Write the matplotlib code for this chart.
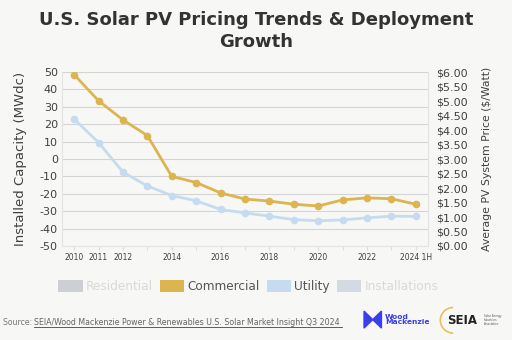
import numpy as np
import matplotlib.pyplot as plt
from matplotlib.patches import Patch, Arc, Polygon

years = ['2010', '2011', '2012', '2013', '2014', '2015', '2016', '2017',
         '2018', '2019', '2020', '2021', '2022', '2023', '2024 1H']
shown_labels = ['2010', '2011', '2012', '', '2014', '', '2016', '',
                '2018', '', '2020', '', '2022', '', '2024 1H']

# $/Watt
commercial = [5.91, 5.01, 4.35, 3.81, 2.40, 2.19, 1.83, 1.62,
              1.55, 1.44, 1.38, 1.59, 1.66, 1.63, 1.44]
utility = [4.38, 3.57, 2.55, 2.07, 1.74, 1.56, 1.26, 1.14,
           1.03, 0.91, 0.87, 0.90, 0.97, 1.03, 1.02]

cap_ticks = list(range(-50, 51, 10))
price_ticks = [i * 0.5 for i in range(13)]

bg = '#f7f7f5'
gold = '#ddb550'
blue = '#c6dbf0'
txt = '#404040'

plt.rcParams['font.family'] = ['DejaVu Sans']

fig = plt.figure(figsize=(5.12, 3.4), dpi=100, facecolor=bg)
ax = fig.add_axes([0.121, 0.2765, 0.715, 0.5115], facecolor=bg)
ax2 = ax.twinx()

x = np.arange(len(years))

ax.set_ylim(-50, 50)
ax.set_yticks(cap_ticks)
ax.set_yticklabels([str(t) for t in cap_ticks], fontsize=8, color=txt)
ax.grid(axis='y', color='#d4d4d4', linewidth=0.8)
ax.set_axisbelow(True)
ax.set_xlim(-0.5, len(years) - 0.5)
ax.set_xticks(x)
ax.set_xticklabels(shown_labels, fontsize=5.5, color=txt)
ax.tick_params(axis='x', length=3, color='#dddddd', pad=2)
ax.tick_params(axis='y', length=0, pad=3)
ax.set_ylabel('Installed Capacity (MWdc)', fontsize=9.5, color=txt, labelpad=9)
for s in ['top', 'right']:
    ax.spines[s].set_visible(False)
ax.spines['left'].set_color('#e4e4e4')
ax.spines['bottom'].set_color('#e4e4e4')

ax2.plot(x, commercial, color=gold, lw=2, marker='o', ms=4.5, zorder=3)
ax2.plot(x, utility, color=blue, lw=2, marker='o', ms=4.5, zorder=3)
ax2.set_ylim(0, 6)
ax2.set_yticks(price_ticks)
ax2.set_yticklabels(['${:.2f}'.format(t) for t in price_ticks], fontsize=8, color=txt)
ax2.tick_params(axis='y', length=0, pad=6)
ax2.set_ylabel('Average PV System Price ($/Watt)', fontsize=7.8, color=txt, labelpad=10)
for s in ax2.spines.values():
    s.set_visible(False)
ax2.spines['right'].set_visible(True)
ax2.spines['right'].set_color('#e4e4e4')

fig.text(0.5, 0.968, 'U.S. Solar PV Pricing Trends & Deployment\nGrowth',
         ha='center', va='top', fontsize=13, fontweight='bold',
         color='#333333', linespacing=1.3)

handles = [Patch(facecolor='#cccfd3', edgecolor='none'),
           Patch(facecolor=gold, edgecolor='none'),
           Patch(facecolor=blue, edgecolor='none'),
           Patch(facecolor='#d3dae4', edgecolor='none')]
labels = ['Residential', 'Commercial', 'Utility', 'Installations']
leg = fig.legend(handles, labels, loc='center', bbox_to_anchor=(0.485, 0.158),
                 ncol=4, frameon=False, fontsize=8.7, handlelength=2.0,
                 handleheight=1.2, handletextpad=0.3, columnspacing=0.55)
for t, c in zip(leg.get_texts(), ['#d9d9d9', '#555555', '#555555', '#d9d9d9']):
    t.set_color(c)

fig.text(0.006, 0.052, 'Source: ', fontsize=5.6, color='#777777', va='center')
src = fig.text(0.066, 0.052,
               'SEIA/Wood Mackenzie Power & Renewables U.S. Solar Market Insight Q3 2024',
               fontsize=5.7, color='#666666', va='center')
fig.add_artist(plt.Line2D([0.066, 0.668], [0.037, 0.037], color='#444444', lw=0.6))

# logos, roughly
wm = '#3a3df0'
fig.add_artist(Polygon([[0.711, 0.035], [0.711, 0.085], [0.728, 0.06],
                        [0.745, 0.085], [0.745, 0.035], [0.728, 0.06]],
                       closed=True, color=wm))
fig.text(0.752, 0.06, 'Wood\nMackenzie', fontsize=5.4, color=wm,
         fontweight='bold', va='center', linespacing=0.9)
fig.add_artist(Arc((0.885, 0.058), 0.05, 0.075, theta1=90, theta2=270,
                   color='#e8c060', lw=1.2))
fig.text(0.874, 0.058, 'SEIA', fontsize=8.5, fontweight='bold',
         color='#222222', va='center')
fig.text(0.945, 0.058, 'Solar Energy\nIndustries\nAssociation', fontsize=2,
         color='#555555', va='center', linespacing=1.0)

fig.savefig('out.png', dpi=100, facecolor=bg)
